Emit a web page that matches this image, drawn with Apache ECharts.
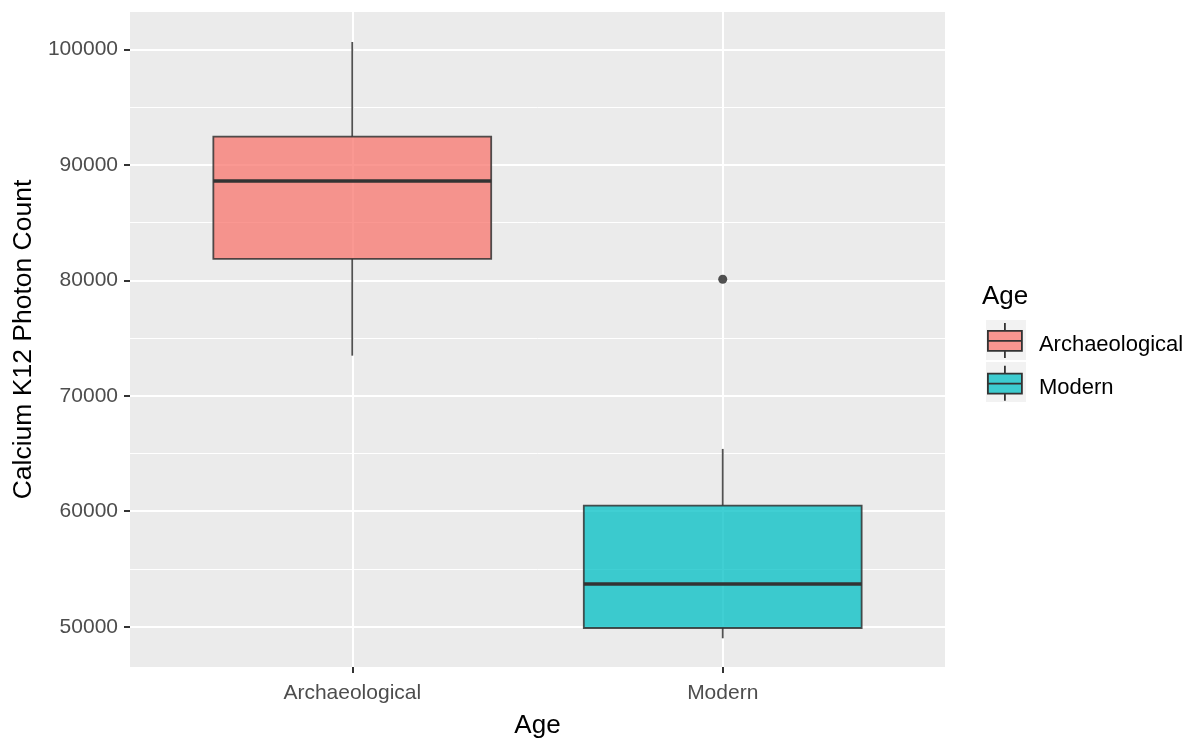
<!DOCTYPE html>
<html>
<head>
<meta charset="utf-8">
<script src="https://cdn.jsdelivr.net/npm/echarts@6/dist/echarts.min.js"></script>
<style>
html,body{margin:0;padding:0;background:#fff;}
#chart{width:1198px;height:739px;}
</style>
</head>
<body>
<div id="chart"></div>
<script>
// ---- data ----
const categories = ['Archaeological', 'Modern'];
const whiskerLow  = [73472, 48996];
const q1          = [81844, 49887];
const median      = [88597, 53697];
const q3          = [92433, 60485];
const whiskerHigh = [100632, 65394];
const outliers    = [[], [80087]];
const yTicks      = [50000, 60000, 70000, 80000, 90000, 100000];
const yMinor      = [55000, 65000, 75000, 85000, 95000];
const yRange      = [46511, 103229];
const xRange      = [0.4, 2.6];
const fillColors  = ['rgba(248,118,109,0.75)', 'rgba(0,191,196,0.75)'];

const outline = '#333333';
const FONT = 'Liberation Sans, Arial, sans-serif';
const chart = echarts.init(document.getElementById('chart'));
const xTicks = categories.map(function (c, i) { return i + 1; });

function renderBox(params, api) {
  const x = api.value(0);
  const pMin = api.coord([x, api.value(1)]);
  const pQ1 = api.coord([x, api.value(2)]);
  const pMed = api.coord([x, api.value(3)]);
  const pQ3 = api.coord([x, api.value(4)]);
  const pMax = api.coord([x, api.value(5)]);
  const w = api.size([0.75, 0])[0];
  const cx = pMed[0];
  const left = cx - w / 2;
  const fill = api.visual('color');
  return {
    type: 'group',
    children: [
      {type: 'line', shape: {x1: cx, y1: pQ3[1], x2: cx, y2: pMax[1]}, style: {stroke: outline, lineWidth: 1.8, opacity: 0.85}},
      {type: 'line', shape: {x1: cx, y1: pQ1[1], x2: cx, y2: pMin[1]}, style: {stroke: outline, lineWidth: 1.8, opacity: 0.85}},
      {type: 'rect', shape: {x: left, y: pQ3[1], width: w, height: pQ1[1] - pQ3[1]}, style: {fill: fill, stroke: 'rgba(51,51,51,0.85)', lineWidth: 1.8}},
      {type: 'line', shape: {x1: left, y1: pMed[1], x2: left + w, y2: pMed[1]}, style: {stroke: outline, lineWidth: 3.6}}
    ]
  };
}

const boxSeries = categories.map(function (name, i) {
  return {
    name: name,
    type: 'custom',
    z: 3,
    renderItem: renderBox,
    itemStyle: {color: fillColors[i]},
    encode: {x: 0, y: [1, 2, 3, 4, 5]},
    data: [[i + 1, whiskerLow[i], q1[i], median[i], q3[i], whiskerHigh[i]]]
  };
});

const outlierData = [];
outliers.forEach(function (arr, i) {
  arr.forEach(function (v) { outlierData.push([i + 1, v]); });
});

const iconPath = 'path://M0,8 L34,8 L34,28 L0,28 Z M0,18 L34,18 M17,0 L17,8 M17,28 L17,35';

function gridLineSeries(name, values, axisKey, width) {
  return {
    name: name,
    type: 'line',
    z: 1,
    silent: true,
    data: [],
    markLine: {
      z: 1,
      silent: true,
      symbol: ['none', 'none'],
      label: {show: false},
      lineStyle: {color: '#ffffff', width: width, type: 'solid', opacity: 1},
      emphasis: {disabled: true},
      data: values.map(function (v) { const o = {}; o[axisKey] = v; return o; })
    }
  };
}

const option = {
  animation: false,
  backgroundColor: '#ffffff',
  textStyle: {fontFamily: FONT},
  title: {
    text: 'Age',
    left: 982,
    top: 284,
    padding: 0,
    textStyle: {fontSize: 26, fontWeight: 'normal', color: '#000', fontFamily: FONT}
  },
  grid: {
    left: 130, top: 12, right: 253, bottom: 72,
    outerBoundsMode: 'none',
    containLabel: false,
    show: true, backgroundColor: '#EBEBEB', borderWidth: 0
  },
  graphic: [
    {type: 'rect', left: 986, top: 320, shape: {width: 40, height: 40}, style: {fill: '#F2F2F2'}, z: -1},
    {type: 'rect', left: 986, top: 362, shape: {width: 40, height: 40}, style: {fill: '#F2F2F2'}, z: -1}
  ],
  legend: {
    orient: 'vertical',
    left: 987,
    top: 322,
    padding: 0,
    itemWidth: 34,
    itemHeight: 35,
    itemGap: 6,
    selectedMode: false,
    formatter: function (name) { return '{t|' + name + '}'; },
    textStyle: {
      fontSize: 22, color: '#000', padding: [0, 0, 0, 12], fontFamily: FONT,
      rich: {t: {fontSize: 22, color: '#000', fontFamily: FONT, lineHeight: 32, verticalAlign: 'bottom'}}
    },
    data: categories.map(function (name, i) {
      return {name: name, icon: iconPath, itemStyle: {color: fillColors[i], borderColor: outline, borderWidth: 1.8}};
    })
  },
  xAxis: {
    type: 'value',
    min: xRange[0], max: xRange[1],
    name: 'Age',
    nameLocation: 'middle',
    nameGap: 46,
    nameTextStyle: {fontSize: 26, color: '#000'},
    axisLine: {show: false},
    axisTick: {show: true, length: 6, lineStyle: {color: '#333', width: 2}, customValues: xTicks},
    axisLabel: {
      fontSize: 21, color: '#4D4D4D', margin: 16,
      customValues: xTicks,
      formatter: function (v) { return categories[Math.round(v) - 1] || ''; }
    },
    splitLine: {show: false}
  },
  yAxis: {
    type: 'value',
    min: yRange[0], max: yRange[1],
    name: 'Calcium K12 Photon Count',
    nameLocation: 'middle',
    nameGap: 89,
    nameTextStyle: {fontSize: 26.5, color: '#000'},
    axisLine: {show: false},
    axisTick: {show: true, length: 6, lineStyle: {color: '#333', width: 2}, customValues: yTicks},
    axisLabel: {fontSize: 21, color: '#4D4D4D', margin: 12, customValues: yTicks, formatter: function (v) { return String(v); }},
    splitLine: {show: false}
  },
  series: boxSeries.concat([
    gridLineSeries('minorY', yMinor, 'yAxis', 1),
    gridLineSeries('majorY', yTicks, 'yAxis', 2),
    gridLineSeries('majorX', xTicks, 'xAxis', 2),
    {
      name: 'outlier',
      type: 'scatter',
      z: 4,
      symbolSize: 9,
      itemStyle: {color: '#333333', opacity: 0.85},
      data: outlierData
    }
  ])
};
chart.setOption(option);
</script>
</body>
</html>
